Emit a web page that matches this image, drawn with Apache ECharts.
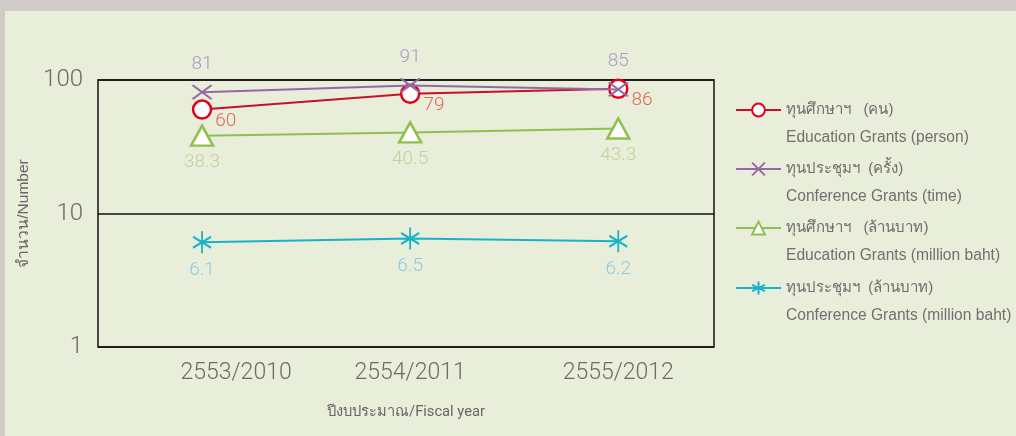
<!DOCTYPE html>
<html>
<head>
<meta charset="utf-8">
<script src="https://cdn.jsdelivr.net/npm/echarts@6/dist/echarts.min.js"></script>
<style>
  html, body { margin: 0; padding: 0; background: #d1cbc7; }
  #chart { position: absolute; left: 5px; top: 11px; width: 1011px; height: 425px; background: #e8eed9; }
</style>
</head>
<body>
<div id="chart"></div>
<script>
const years = ['2553/2010', '2554/2011', '2555/2012'];
const eduPerson = [60, 79, 86];
const confTime = [81, 91, 85];
const eduBaht = [38.3, 40.5, 43.3];
const confBaht = [6.1, 6.5, 6.2];
const yTicks = [1, 10, 100];

const legendNames = [
  ['ทุนศึกษาฯ   (คน)', 'Education Grants (person)'],
  ['ทุนประชุมฯ  (ครั้ง)', 'Conference Grants (time)'],
  ['ทุนศึกษาฯ   (ล้านบาท)', 'Education Grants (million baht)'],
  ['ทุนประชุมฯ  (ล้านบาท)', 'Conference Grants (million baht)']
];

const FONT = 'Roboto, sans-serif';
const SANS = "'Liberation Sans', sans-serif";
const toPairs = arr => arr.map((v, i) => [i, v]);

const chart = echarts.init(document.getElementById('chart'), null, { renderer: 'canvas' });

// one legend per item, so each two-line entry sits where it does in the picture
const legendTops = [57, 116, 175, 235];
const legends = legendNames.map((n, i) => ({
  data: [n[1]],
  left: 730,
  top: legendTops[i],
  padding: 0,
  itemWidth: 45,
  itemHeight: 16,
  selectedMode: false,
  formatter: name => '{th|' + legendNames[i][0] + '}\n{en|' + name + '}',
  textStyle: {
    padding: [28, 0, 0, 0],
    lineHeight: 28,
    rich: {
      th: { fontSize: 15, color: '#6e6e6e', lineHeight: 28, fontFamily: SANS },
      en: { fontSize: 15.6, color: '#707070', lineHeight: 28, fontFamily: SANS }
    }
  }
}));

const crossPath = 'path://M0,0L10,10M10,0L0,10';
const starPath = 'path://M5,0L5,10M0.67,2.5L9.33,7.5M0.67,7.5L9.33,2.5';

const valueLabel = (color, extra) => Object.assign({
  show: true, fontSize: 19, fontWeight: 300, color: color, fontFamily: FONT
}, extra);

const option = {
  animation: false,
  grid: {
    left: 93, top: 69, width: 616, height: 267,
    show: true, borderColor: '#111', borderWidth: 1.5, backgroundColor: 'transparent'
  },
  legend: legends,
  xAxis: {
    type: 'value',
    min: -0.5,
    max: 2.46,
    name: 'ปีงบประมาณ/Fiscal year',
    nameLocation: 'middle',
    nameGap: 58,
    nameTextStyle: { fontSize: 14.7, color: '#666', fontFamily: FONT },
    axisLine: { show: false },
    axisTick: { show: false },
    splitLine: { show: false },
    axisLabel: {
      customValues: [0, 1, 2],
      margin: 15,
      fontSize: 23,
      fontWeight: 300,
      color: '#6b6b6b',
      fontFamily: FONT,
      formatter: v => (v === 0 ? '{shift|' + years[v] + '}' : years[v]),
      rich: { shift: { fontSize: 23, fontWeight: 300, color: '#6b6b6b', fontFamily: FONT, padding: [0, 0, 0, 68] } }
    }
  },
  yAxis: {
    type: 'log',
    logBase: 10,
    min: yTicks[0],
    max: yTicks[yTicks.length - 1],
    name: 'จำนวน/Number',
    nameLocation: 'middle',
    nameGap: 51,
    nameTextStyle: { fontSize: 15.5, color: '#666', fontFamily: SANS },
    axisLine: { show: false },
    axisTick: { show: false },
    splitLine: { show: true, lineStyle: { color: '#111', width: 1.5 } },
    axisLabel: { margin: 15, fontSize: 24, fontWeight: 300, color: '#6b6b6b', fontFamily: FONT }
  },
  series: [
    {
      name: legendNames[0][1], type: 'line', data: toPairs(eduPerson), z: 4,
      symbol: 'circle', symbolSize: 18,
      lineStyle: { color: '#c8102e', width: 2 },
      itemStyle: { color: '#fff', borderColor: '#e3001b', borderWidth: 2.5 },
      label: valueLabel('#e0675a', { position: 'right', distance: 3, offset: [0, 12] })
    },
    {
      name: legendNames[1][1], type: 'line', data: toPairs(confTime), z: 5,
      symbol: crossPath, symbolSize: [19, 14],
      lineStyle: { color: '#9569a8', width: 2 },
      itemStyle: { color: '#9569a8', borderColor: '#9569a8', borderWidth: 2 },
      label: valueLabel('#a99ac6', { position: 'top', distance: 11 })
    },
    {
      name: legendNames[2][1], type: 'line', data: toPairs(eduBaht), z: 3,
      symbol: 'triangle', symbolSize: [22, 20],
      lineStyle: { color: '#8fc04f', width: 2 },
      itemStyle: { color: '#fff', borderColor: '#8fc04f', borderWidth: 2.5 },
      label: valueLabel('#c6d09a', { position: 'bottom', distance: 6 })
    },
    {
      name: legendNames[3][1], type: 'line', data: toPairs(confBaht), z: 3,
      symbol: starPath, symbolSize: [18, 22],
      lineStyle: { color: '#16b3c9', width: 2 },
      itemStyle: { color: '#16b3c9', borderColor: '#16b3c9', borderWidth: 2 },
      label: valueLabel('#8ec9e3', { position: 'bottom', distance: 6 })
    }
  ]
};

chart.setOption(option);
</script>
</body>
</html>
